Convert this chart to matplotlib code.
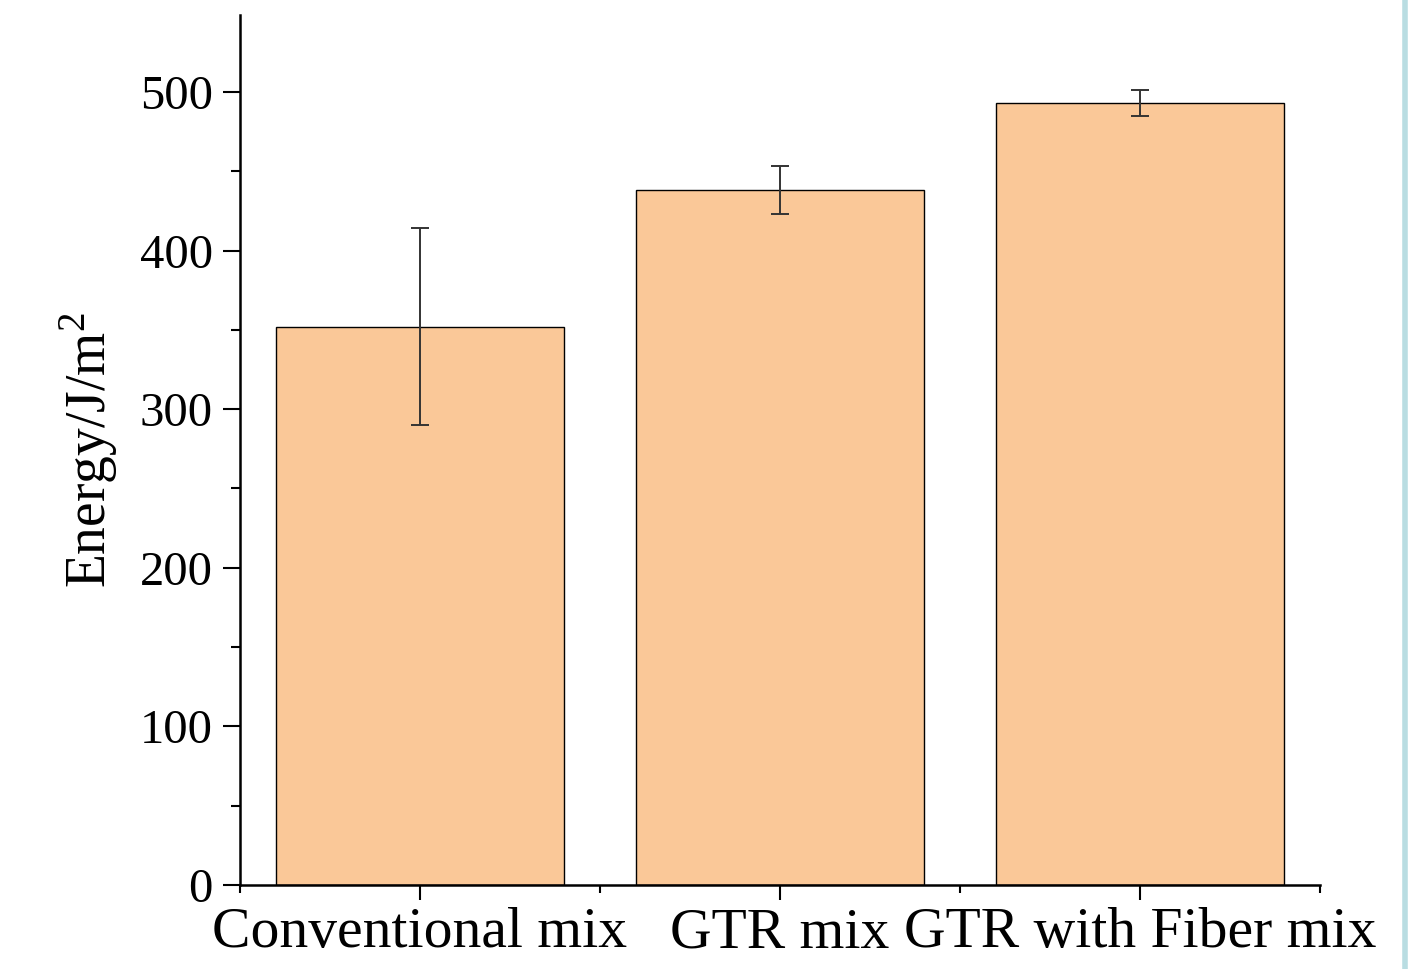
import matplotlib.pyplot as plt
from matplotlib.lines import Line2D
from matplotlib.ticker import MultipleLocator, FixedLocator

plt.rcParams['font.family'] = ['Liberation Serif', 'DejaVu Serif']
plt.rcParams['mathtext.fontset'] = 'stix'

# ========== data ==========
categories = ['Conventional mix', 'GTR mix', 'GTR with Fiber mix']
energy = [352, 438, 493]
energy_err = [62, 15, 8]

# ========== plot ==========
fig = plt.figure(figsize=(14.25, 9.69), dpi=100)
ax = fig.add_axes([240 / 1425, 84 / 969, 1080 / 1425, 870 / 969])

x = list(range(1, len(categories) + 1))
ax.bar(x, energy, width=0.8, color='#fac898', edgecolor='black', linewidth=1.0, zorder=2)
ax.errorbar(x, energy, yerr=energy_err, fmt='none', ecolor='#333333',
            elinewidth=1.4, capsize=6.5, capthick=1.4, zorder=3)

ax.set_xlim(0.5, len(categories) + 0.5)
ax.set_ylim(0, 548.5)
ax.set_xticks(x)
ax.set_xticklabels(categories, fontsize=41.5)
ax.xaxis.set_minor_locator(FixedLocator([0.5, 1.5, 2.5, 3.5]))
ax.yaxis.set_major_locator(MultipleLocator(100))
ax.yaxis.set_minor_locator(MultipleLocator(50))
ax.tick_params(axis='y', which='major', labelsize=35, length=12.5, width=1.5, pad=7, direction='out')
ax.tick_params(axis='y', which='minor', length=6.5, width=1.5, direction='out')
ax.tick_params(axis='x', which='major', length=11, width=1.5, pad=5, direction='out')
ax.tick_params(axis='x', which='minor', length=6, width=1.5, direction='out')

ax.set_ylabel('Energy/J/m$^{\\mathregular{2}}$', fontsize=40, labelpad=14)

for side in ['top', 'right']:
    ax.spines[side].set_visible(False)
for side in ['left', 'bottom']:
    ax.spines[side].set_linewidth(1.8)

# light page-edge line on the right
fig.add_artist(Line2D([1405 / 1425, 1405 / 1425], [0, 1], transform=fig.transFigure,
                      color='#b9dde2', linewidth=4))

fig.savefig('out.png', dpi=100)
